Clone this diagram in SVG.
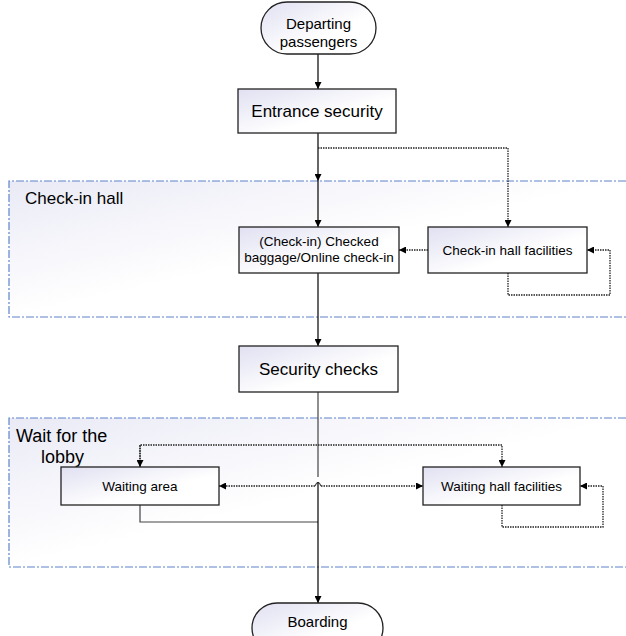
<svg xmlns="http://www.w3.org/2000/svg" width="626" height="636" viewBox="0 0 626 636">
<defs>
<linearGradient id="gBox" x1="0" y1="0" x2="1" y2="1">
<stop offset="0" stop-color="#e0e0f2"/>
<stop offset="0.6" stop-color="#ffffff"/>
</linearGradient>
<linearGradient id="gReg" x1="0" y1="0" x2="1" y2="1">
<stop offset="0" stop-color="#eaeaf6"/>
<stop offset="0.5" stop-color="#ffffff"/>
</linearGradient>
<marker id="ah" viewBox="0 0 10 10" refX="10" refY="5" markerWidth="7" markerHeight="7" markerUnits="userSpaceOnUse" orient="auto">
<path d="M0,0 L10,5 L0,10 z" fill="#000"/>
</marker>
<style>
.box{fill:url(#gBox);stroke:#222;stroke-width:1.3}
.reg{fill:url(#gReg);stroke:#5f84cc;stroke-width:1.2;stroke-dasharray:8 2 2 2}
.t{font-family:"Liberation Sans",Arial,sans-serif;fill:#000;text-anchor:middle}
.rl{font-family:"Liberation Sans",Arial,sans-serif;fill:#000}
.solid{fill:none;stroke:#000;stroke-width:1.2}
.grey{fill:none;stroke:#444;stroke-width:1.2}
.dot{fill:none;stroke:#222;stroke-width:1.3;stroke-dasharray:1.5 1}
</style>
</defs>
<g id="region-checkin">
<path class="reg" d="M626,181 H9 V317 H626"/>
<text class="rl" x="25" y="204" font-size="17">Check-in hall</text>
</g>
<g id="region-wait">
<path class="reg" d="M626,418 H9 V567 H626"/>
<text class="rl" x="16" y="442" font-size="18">Wait for the</text>
<text class="rl" x="41" y="463" font-size="18">lobby</text>
</g>
<g id="connectors">
<path class="solid" d="M318,54 V89" marker-end="url(#ah)"/>
<path class="solid" d="M318,133 V181" marker-end="url(#ah)"/>
<path class="solid" d="M318,181 V227" marker-end="url(#ah)"/>
<path class="dot" d="M318,148 H508 V227" marker-end="url(#ah)"/>
<path class="dot" d="M428,250 H399" marker-end="url(#ah)"/>
<path class="dot" d="M508,273 V295 H610 V250 H587" marker-end="url(#ah)"/>
<path class="solid" d="M318,273 V346" marker-end="url(#ah)"/>
<path class="grey" d="M318,392 V477"/>
<path class="dot" d="M140,467 V445 H502 V467" marker-end="url(#ah)"/>
<path class="dot" d="M140,445 V467" marker-end="url(#ah)"/>
<path class="dot" d="M315,486 H219" marker-end="url(#ah)"/>
<path class="dot" d="M321,486 H423" marker-end="url(#ah)"/>
<path class="grey" d="M315,486 Q318,479 321,486"/>
<path class="dot" d="M502,505 V527 H603 V486 H580" marker-end="url(#ah)"/>
<path class="grey" d="M140,505 V522 H318"/>
<path class="solid" d="M318,482 V603" marker-end="url(#ah)"/>
</g>
<g id="departing">
<rect class="box" x="261" y="2" width="115" height="52" rx="26"/>
<text class="t" x="318.5" y="29" font-size="15">Departing</text>
<text class="t" x="318.5" y="47" font-size="15">passengers</text>
</g>
<g id="entrance">
<rect class="box" x="238" y="89" width="158" height="44"/>
<text class="t" x="317" y="117" font-size="17">Entrance security</text>
</g>
<g id="checked">
<rect class="box" x="239" y="227" width="160" height="46"/>
<text class="t" x="319" y="246" font-size="13.5">(Check-in) Checked</text>
<text class="t" x="319" y="261.5" font-size="13.5">baggage/Online check-in</text>
</g>
<g id="checkin-facilities">
<rect class="box" x="428" y="227" width="159" height="46"/>
<text class="t" x="507.5" y="255" font-size="13.5">Check-in hall facilities</text>
</g>
<g id="security">
<rect class="box" x="239" y="346" width="159" height="46"/>
<text class="t" x="318.5" y="375" font-size="17">Security checks</text>
</g>
<g id="waiting-area">
<rect class="box" x="61" y="467" width="158" height="38"/>
<text class="t" x="140" y="491" font-size="13.5">Waiting area</text>
</g>
<g id="waiting-facilities">
<rect class="box" x="423" y="467" width="157" height="38"/>
<text class="t" x="501.5" y="491" font-size="13.5">Waiting hall facilities</text>
</g>
<g id="boarding">
<rect class="box" x="252" y="603" width="131" height="50" rx="25"/>
<text class="t" x="317.5" y="627" font-size="15">Boarding</text>
</g>
</svg>
